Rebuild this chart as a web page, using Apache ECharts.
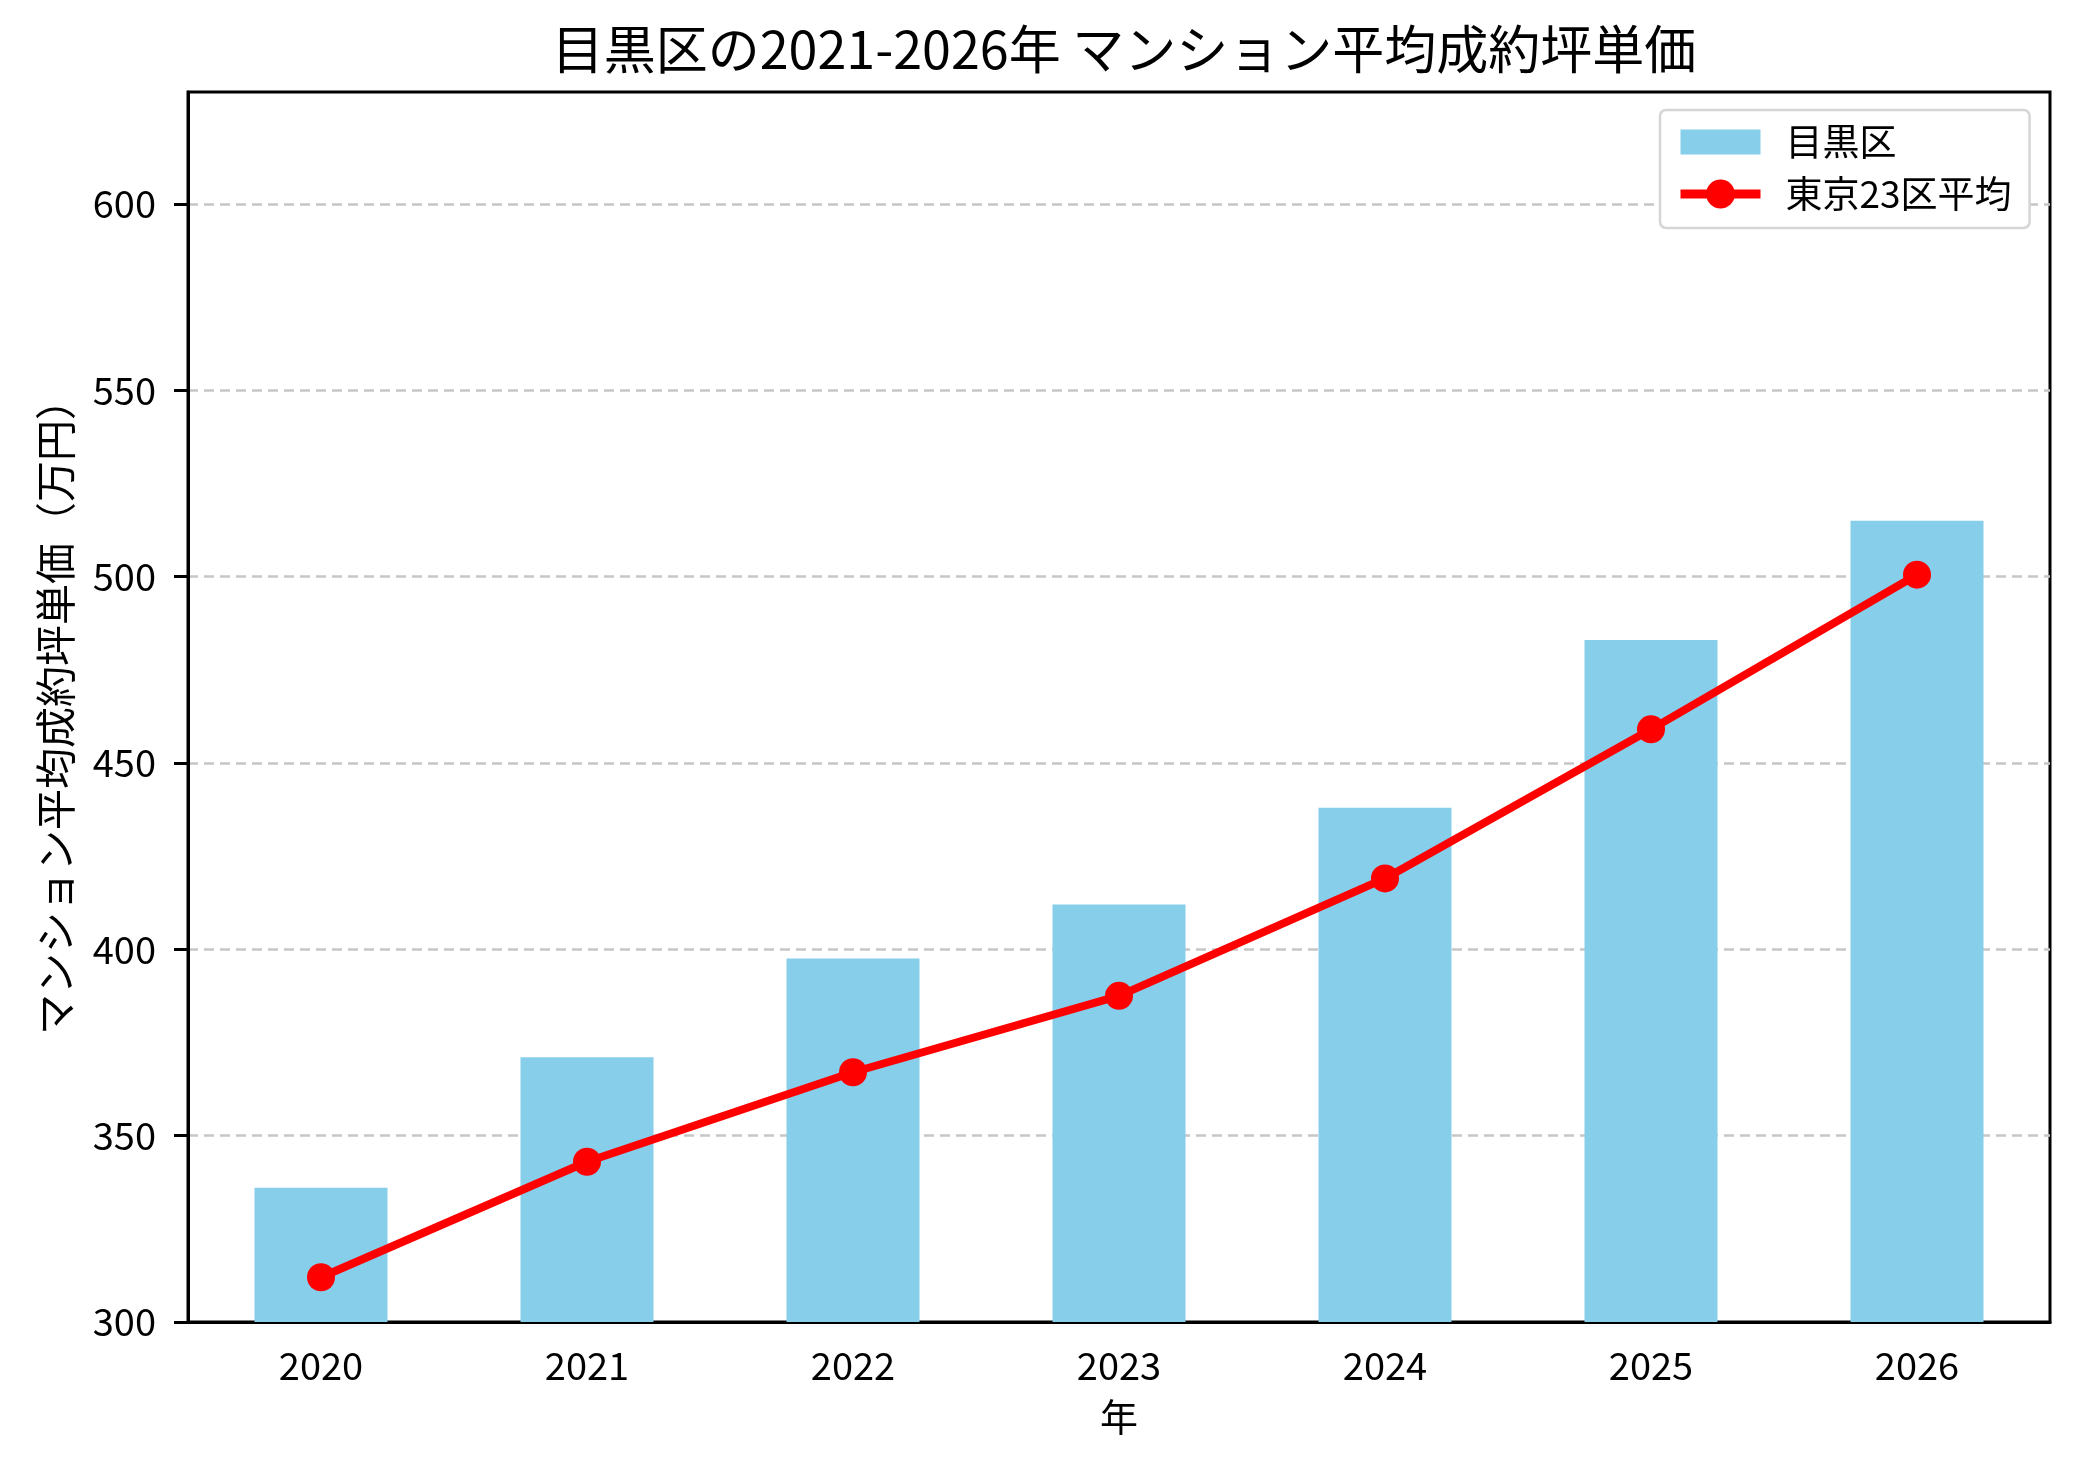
<!DOCTYPE html>
<html>
<head>
<meta charset="utf-8">
<title>目黒区 マンション平均成約坪単価</title>
<script src="https://cdn.jsdelivr.net/npm/echarts@6/dist/echarts.min.js"></script>
<style>
  html, body { margin: 0; padding: 0; background: #fff; }
  #main { width: 2079px; height: 1474px; }
</style>
</head>
<body>
<div id="main"></div>
<script>
// data
var years = ['2020', '2021', '2022', '2023', '2024', '2025', '2026'];
var meguro = [336, 371, 397.5, 412, 438, 483, 515];
var tokyo23 = [312, 343, 367, 387.5, 419, 459, 500.5];
var yTicks = [300, 350, 400, 450, 500, 550, 600];

var FONT = '"Noto Sans CJK JP", "Noto Sans", sans-serif';

var myChart = echarts.init(document.getElementById('main'));

var option = {
    animation: false,
    backgroundColor: '#fff',
    textStyle: { fontFamily: FONT, color: '#000' },
    title: {
        text: '目黒区の2021-2026年 マンション平均成約坪単価',
        left: 1119,
        textAlign: 'center',
        top: 18,
        textStyle: {
            fontFamily: FONT,
            fontSize: 52,
            fontWeight: 'normal',
            color: '#000'
        }
    },
    legend: {
        orient: 'vertical',
        left: 1660,
        top: 110,
        padding: [13, 18, 15, 16],
        itemGap: 14,
        itemWidth: 80,
        itemHeight: 36,
        backgroundColor: '#fff',
        borderColor: '#d5d5d5',
        borderWidth: 2.5,
        borderRadius: 6,
        textStyle: {
            fontFamily: FONT,
            fontSize: 37,
            lineHeight: 38,
            color: '#000',
            padding: [0, 0, 0, 20]
        },
        data: [
            // flat box kept to its own aspect inside the taller legend slot
            { name: '目黒区', icon: 'path://M0,0H80V25H0Z' },
            { name: '東京23区平均', lineStyle: { width: 9 } }
        ]
    },
    grid: {
        left: 188,
        right: 29,
        top: 92,
        bottom: 152,
        show: true,
        borderColor: '#000',
        borderWidth: 3,
        backgroundColor: 'transparent'
    },
    xAxis: {
        type: 'category',
        data: years,
        name: '年',
        nameLocation: 'middle',
        nameGap: 76,
        nameTextStyle: { fontFamily: FONT, fontSize: 38, color: '#000' },
        axisLine: { lineStyle: { color: '#000', width: 3 } },
        axisTick: { alignWithLabel: true, length: 14, lineStyle: { color: '#000', width: 3 } },
        axisLabel: { fontFamily: FONT, fontSize: 38, color: '#000', margin: 25 },
        splitLine: { show: false }
    },
    yAxis: {
        type: 'value',
        min: 300,
        max: 630,
        interval: 50,
        name: 'マンション平均成約坪単価（万円）',
        nameLocation: 'middle',
        nameGap: 112,
        nameTextStyle: { fontFamily: FONT, fontSize: 41, color: '#000' },
        axisLine: { show: true, lineStyle: { color: '#000', width: 3 } },
        axisTick: { show: true, length: 14, customValues: yTicks, lineStyle: { color: '#000', width: 3 } },
        axisLabel: { fontFamily: FONT, fontSize: 38, color: '#000', margin: 32, customValues: yTicks },
        splitLine: {
            show: true,
            lineStyle: { color: '#c6c6c6', width: 2.5, type: [10, 6] }
        }
    },
    series: [
        {
            name: '目黒区',
            type: 'bar',
            data: meguro,
            barWidth: '50%',
            itemStyle: { color: '#87CEEB' },
            z: 2
        },
        {
            name: '東京23区平均',
            type: 'line',
            data: tokyo23,
            symbol: 'circle',
            symbolSize: 28,
            showAllSymbol: true,
            lineStyle: { color: '#ff0000', width: 8 },
            itemStyle: { color: '#ff0000', borderWidth: 0 },
            z: 3
        }
    ]
};

myChart.setOption(option);
</script>
</body>
</html>
